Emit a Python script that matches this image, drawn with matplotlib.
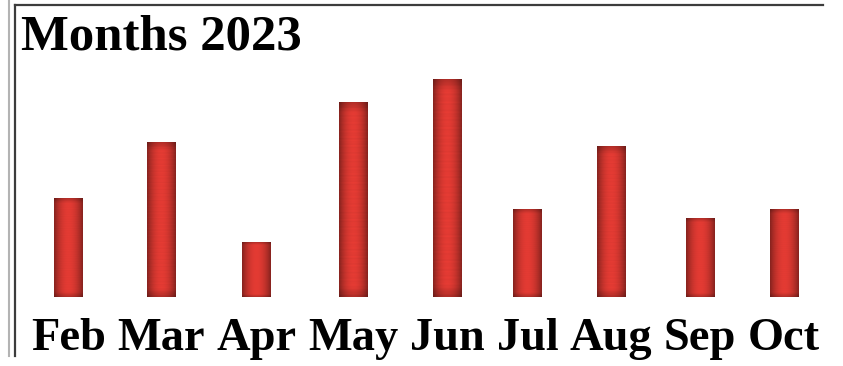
import matplotlib.pyplot as plt
import numpy as np
from matplotlib.lines import Line2D

W, H = 843, 366
DPI = 100

months = ["Feb", "Mar", "Apr", "May", "Jun", "Jul", "Aug", "Sep", "Oct"]
values = [45, 71, 25, 89, 100, 40, 69, 36, 40]
title = "Months 2023"

SERIF = ["Liberation Serif", "DejaVu Serif"]
LABEL_SIZE = 33.4


def px(x, y):
    # pixel position (from top-left) -> figure fraction
    return x / W, 1 - y / H


def bar_texture(n_rows=200, n_cols=40):
    # red fill, darker towards the sides and ends, with faint horizontal grain
    u = np.linspace(-1, 1, n_cols)
    v = np.linspace(-1, 1, n_rows)
    side = 1 - 0.4 * np.abs(u) ** 2.0
    ends = 1 - 0.22 * np.clip((np.abs(v) - 0.9) / 0.1, 0, 1)
    grain = 1 + 0.025 * np.sin(v * 173) * np.cos(v * 41 + 0.7)
    shade = np.outer(ends * grain, side)
    base = np.array([0.89, 0.23, 0.20])
    return np.clip(shade[..., None] * base, 0, 1)


fig = plt.figure(figsize=(W / DPI, H / DPI), dpi=DPI)
fig.patch.set_facecolor("white")

# frame lines
fig.add_artist(Line2D(*zip(px(9, 0), px(9, 356)), color="#b3b3b3", lw=1.5))
fig.add_artist(Line2D(*zip(px(15, 5), px(15, 356)), color="#3c3c3c", lw=1.6))
fig.add_artist(Line2D(*zip(px(15, 5), px(823, 5)), color="#3c3c3c", lw=1.6))

fig.text(*px(21, 49), title, family=SERIF, weight="bold",
         fontsize=36.5, va="baseline", ha="left")

# plot area: baseline at y=297px, top of tallest bar at y=79px
ax = fig.add_axes([0, px(0, 297)[1], 1, (297 - 79) / H])
ax.axis("off")

# month labels laid out as one line of words; bars sit over each word
fig.canvas.draw()
renderer = fig.canvas.get_renderer()
space = fig.text(0, 0, "a a", family=SERIF, weight="bold", fontsize=LABEL_SIZE)
probe = fig.text(0, 0, "aa", family=SERIF, weight="bold", fontsize=LABEL_SIZE)
gap = (space.get_window_extent(renderer).width
       - probe.get_window_extent(renderer).width)
space.remove()
probe.remove()

x_cursor = 31
centers = []
for m in months:
    t = fig.text(*px(x_cursor, 350), m, family=SERIF, weight="bold",
                 fontsize=LABEL_SIZE, va="baseline", ha="left")
    w = t.get_window_extent(renderer).width
    centers.append(x_cursor + w / 2)
    x_cursor += w + gap

tex = bar_texture()
bar_w = 29
bars = ax.bar(centers, values, width=bar_w, color="none", edgecolor="none")
for rect in bars:
    x0, y0 = rect.get_x(), rect.get_y()
    ax.imshow(tex, extent=(x0, x0 + rect.get_width(), y0, y0 + rect.get_height()),
              aspect="auto", interpolation="bilinear", zorder=2)

ax.set_xlim(0, W)
ax.set_ylim(0, max(values))

fig.savefig("out.png", dpi=DPI)
